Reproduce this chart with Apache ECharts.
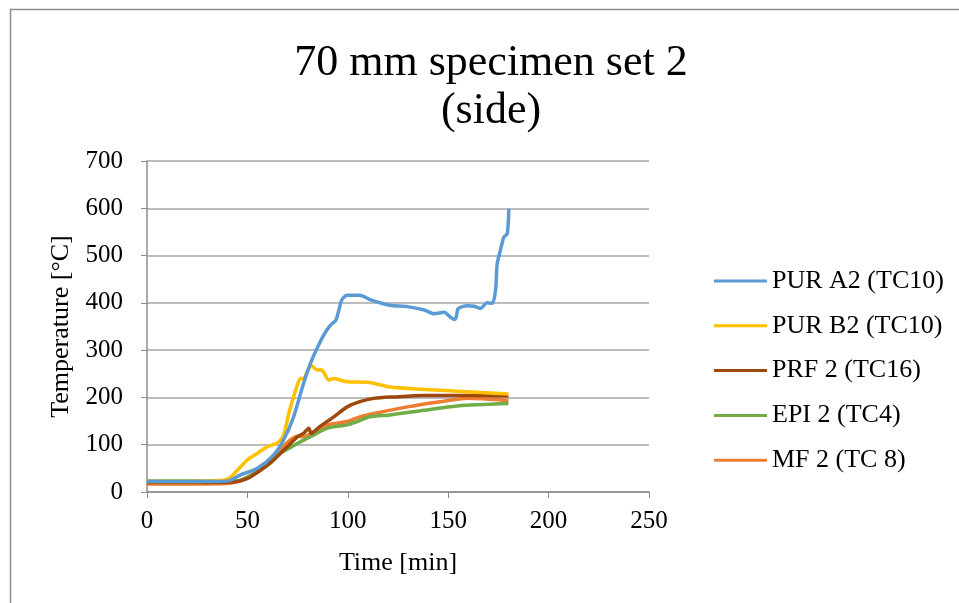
<!DOCTYPE html>
<html>
<head>
<meta charset="utf-8">
<script src="https://cdn.jsdelivr.net/npm/echarts@6/dist/echarts.min.js"></script>
<style>
	body { margin: 0; background: #fff; }
	#chart { width: 959px; height: 603px; }
</style>
</head>
<body>
<div id="chart"></div>
<script>
var seriesNames = ['PUR A2 (TC10)', 'PUR B2 (TC10)', 'PRF 2 (TC16)', 'EPI 2 (TC4)', 'MF 2 (TC 8)'];
var colors = ['#5b9bd5', '#ffc000', '#9e480e', '#70ad47', '#ed7d31'];

var timeA = [0, 20, 40, 46.5, 55, 63, 68, 73, 78, 81.4, 84.7, 88, 91.4, 94, 95.5, 97, 99.7, 106, 111, 121, 129.6, 138, 143, 148, 151, 153, 154, 155, 159.5, 163, 166, 169.4, 172, 173.6, 174.4, 176, 177.7, 179.4, 180.2];
var tempA = [22, 22, 23, 36, 50, 78, 110, 159, 230, 272, 304, 332, 353, 363, 384, 406, 416, 416, 407, 395, 392, 385, 377, 380, 370, 365, 370, 388, 394, 393, 388, 400, 399, 427, 483, 511, 539, 546, 599];

var timeB = [0, 20, 38, 41.5, 45, 50, 55, 60, 65, 68, 70.6, 74, 76.4, 78, 79.7, 81.7, 84.7, 87, 90.5, 93, 99.7, 110, 121, 138, 154.5, 180];
var tempB = [22, 22, 25, 31, 46, 68, 82, 96, 104, 120, 166, 215, 240, 240, 254, 268, 258, 258, 237, 240, 233, 232, 222, 217, 213, 207];

var timeC = [0, 20, 43, 50, 56.5, 63, 70, 75, 78, 80.6, 81.7, 86, 93, 99.7, 106, 113, 123, 138, 163, 180];
var tempC = [20, 20, 21, 29, 46, 68, 96, 117, 124, 135, 124, 138, 159, 180, 191, 198, 201, 204, 204, 203];

var timeD = [0, 20, 38, 46.5, 55, 61.5, 66.4, 70.6, 75, 81.4, 90, 99.7, 104.7, 111, 121, 138, 154.5, 180];
var tempD = [23, 23, 23, 25, 43, 61, 82, 92, 103, 117, 135, 142, 149, 159, 163, 173, 182, 187];

var timeE = [0, 20, 40, 45, 50, 55, 61.5, 66.4, 71.4, 75, 78, 83, 90, 99.7, 106, 113, 129.6, 146, 159.5, 180];
var tempE = [17, 17, 18, 22, 29, 43, 64, 89, 110, 118, 117, 127, 142, 149, 159, 166, 180, 191, 198, 193];

var xTicks = [0, 50, 100, 150, 200, 250];
var yTicks = [0, 100, 200, 300, 400, 500, 600, 700];

function pairs(t, v) {
	var out = [];
	for (var i = 0; i < t.length; i++) out.push([t[i], v[i]]);
	return out;
}

var allData = [pairs(timeA, tempA), pairs(timeB, tempB), pairs(timeC, tempC), pairs(timeD, tempD), pairs(timeE, tempE)];
var font = '"Liberation Serif", "Times New Roman", serif';

var series = [];
for (var i = 0; i < seriesNames.length; i++) {
	series.push({
		name: seriesNames[i],
		type: 'line',
		data: allData[i],
		showSymbol: false,
		smooth: 0.25,
		lineStyle: { width: 3.5, color: colors[i] },
		itemStyle: { color: colors[i] },
		z: 10 - i
	});
}

var chart = echarts.init(document.getElementById('chart'));
chart.setOption({
	animation: false,
	backgroundColor: '#ffffff',
	title: {
		text: '70 mm specimen set 2\n(side)',
		left: 486,
		top: 34,
		textAlign: 'center',
		textStyle: { fontFamily: font, fontSize: 44, fontWeight: 'normal', color: '#000', lineHeight: 48 }
	},
	graphic: [{
		type: 'polyline',
		shape: { points: [[10.5, 603], [10.5, 9.5], [959, 9.5]] },
		style: { stroke: '#8c8c8c', lineWidth: 1.5, fill: null }
	}],
	legend: {
		orient: 'vertical',
		left: 709,
		top: 263,
		itemWidth: 53,
		itemHeight: 3,
		itemGap: 18.8,
		icon: 'rect',
		textStyle: { fontFamily: font, fontSize: 26, color: '#000' },
		data: seriesNames
	},
	grid: { left: 147, right: 310, top: 161, bottom: 111 },
	xAxis: {
		type: 'value',
		min: xTicks[0],
		max: xTicks[xTicks.length - 1],
		interval: 50,
		name: 'Time [min]',
		nameLocation: 'middle',
		nameGap: 58,
		nameTextStyle: { fontFamily: font, fontSize: 26, color: '#000' },
		axisLine: { lineStyle: { color: '#8c8c8c', width: 1.5 } },
		axisTick: { show: true, length: 6, lineStyle: { color: '#8c8c8c' } },
		axisLabel: { fontFamily: font, fontSize: 25, color: '#000', margin: 17 },
		splitLine: { show: false }
	},
	yAxis: {
		type: 'value',
		min: yTicks[0],
		max: yTicks[yTicks.length - 1],
		interval: 100,
		name: 'Temperature [°C]',
		nameLocation: 'middle',
		nameGap: 69,
		nameTextStyle: { fontFamily: font, fontSize: 26, color: '#000' },
		axisLine: { show: true, lineStyle: { color: '#8c8c8c', width: 1.5 } },
		axisTick: { show: true, length: 6, lineStyle: { color: '#8c8c8c' } },
		axisLabel: { fontFamily: font, fontSize: 25, color: '#000', margin: 24 },
		splitLine: { show: true, lineStyle: { color: '#a6a6a6', width: 1.5 } }
	},
	series: series
});
</script>
</body>
</html>
